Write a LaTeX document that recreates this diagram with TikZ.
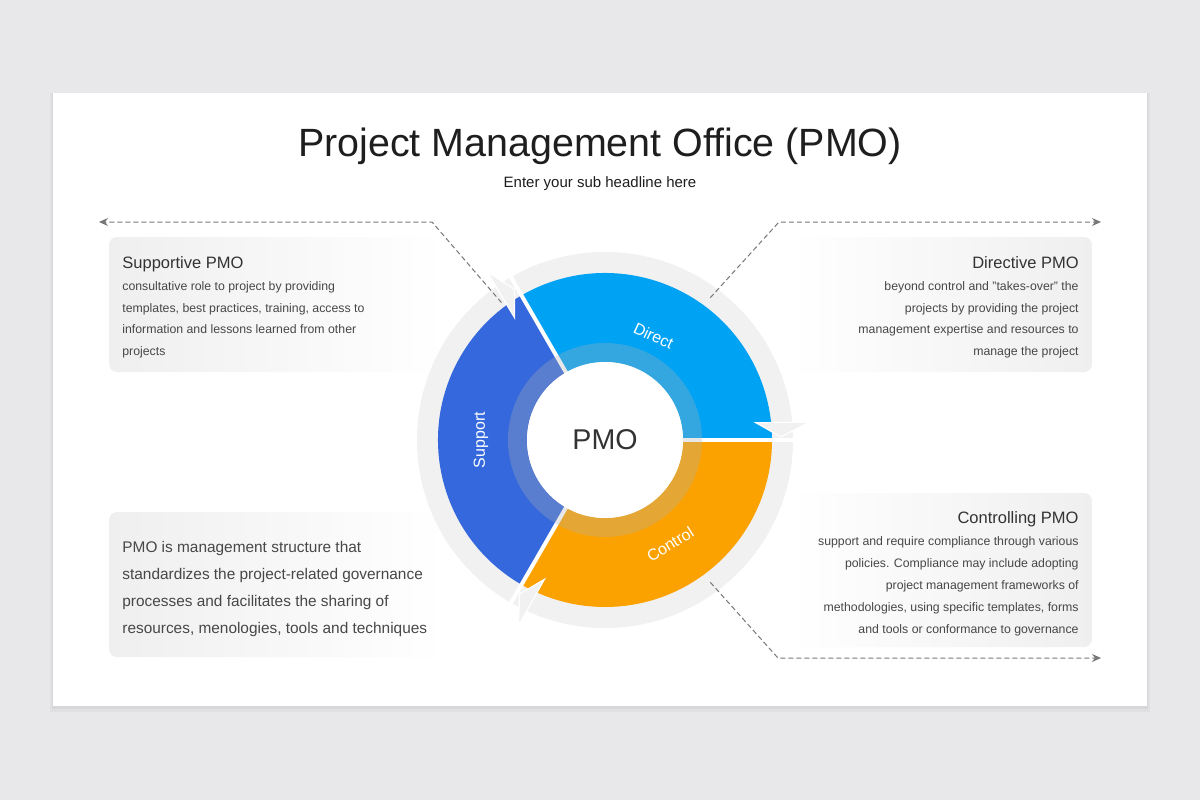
\documentclass[tikz,border=0pt]{standalone}
\usepackage{fontspec}
\setmainfont{Liberation Sans}
\usetikzlibrary{positioning, arrows.meta}

\definecolor{pagegray}{HTML}{E8E7E9}
\definecolor{ringgray}{HTML}{F1F1F1}
\definecolor{boxgray}{HTML}{EFEFEF}
\definecolor{directblue}{HTML}{00A3F4}
\definecolor{supportblue}{HTML}{3468DC}
\definecolor{controlorange}{HTML}{FBA200}
\definecolor{dashgray}{HTML}{777777}
\definecolor{titletext}{HTML}{1E1E1E}
\definecolor{headtext}{HTML}{333333}
\definecolor{bodytext}{HTML}{474747}

\begin{document}
\begin{tikzpicture}
            [x=0.5pt, y=0.5pt, >={Stealth[length=4.5pt, width=4pt]},
             infobox/.style={rounded corners=4pt, draw=none, inner sep=0pt},
             heading/.style={inner sep=0pt, text=headtext, font=\fontsize{8.25}{10}\selectfont},
             infotext/.style={inner sep=0pt, text=bodytext, font=\fontsize{6.15}{10.85}\selectfont},
             seglabel/.style={inner sep=0pt, text=white, font=\fontsize{8}{10}\selectfont},
             arrowhead/.style={fill=ringgray, draw=white, line width=0.6pt},
             link/.style={->, dashgray, dash pattern=on 2.5pt off 1.5pt, line width=0.5pt}]
            \useasboundingbox (0, 0) rectangle (1200, 800);
            \fill[pagegray] (0, 0) rectangle (1200, 800);
            \fill[black, opacity=0.03] (50, 88) rectangle (1150, 707);
            \fill[black, opacity=0.04] (52, 91) rectangle (1148, 707);
            \fill[white] (53, 94) rectangle (1147, 707);

            \node[inner sep=0pt, text=titletext, font=\fontsize{19.7}{22}\selectfont, anchor=base] (title) at (600, 644) {Project Management Office (PMO)};
            \node[inner sep=0pt, text=titletext, font=\fontsize{7.5}{9}\selectfont, anchor=base] (subtitle) at (600, 612.5) {Enter your sub headline here};

            \node[infobox, left color=boxgray, right color=white, minimum width=168pt, minimum height=67.5pt] (supbox) at (277, 495.5) {};
            \node[infobox, left color=white, right color=boxgray, minimum width=151pt, minimum height=67.5pt] (dirbox) at (941, 495.5) {};
            \node[infobox, left color=white, right color=boxgray, minimum width=151pt, minimum height=77pt] (ctlbox) at (941, 230) {};
            \node[infobox, left color=boxgray, right color=white, minimum width=168pt, minimum height=72.5pt] (defbox) at (277, 215.5) {};

            \node[heading, anchor=base west] (suphead) at (122, 532) {Supportive PMO};
            \node[infotext, anchor=north west, align=left] (suptext) at (122, 519)
                {consultative role to project by providing\\templates, best practices, training, access to\\information and lessons learned from other\\projects};
            \node[heading, anchor=base east] (dirhead) at (1079, 532) {Directive PMO};
            \node[infotext, anchor=north east, align=right] (dirtext) at (1079, 519)
                {beyond control and "takes-over" the\\projects by providing the project\\management expertise and resources to\\manage the project};
            \node[heading, anchor=base east] (ctlhead) at (1079, 277) {Controlling PMO};
            \node[infotext, anchor=north east, align=right, font=\fontsize{6.15}{11}\selectfont] (ctltext) at (1079, 264)
                {support and require compliance through various\\policies. Compliance may include adopting\\project management frameworks of\\methodologies, using specific templates, forms\\and tools or conformance to governance};
            \node[infotext, anchor=north west, align=left, font=\fontsize{7.7}{13.5}\selectfont] (deftext) at (122, 259.5)
                {PMO is management structure that\\standardizes the project-related governance\\processes and facilitates the sharing of\\resources, menologies, tools and techniques};

            \begin{scope}[shift={(605, 360)}]
                \fill[ringgray] (0, 0) circle (188);
                \fill[directblue] (0:78) arc[start angle=0, end angle=120, radius=78] -- (120:167) arc[start angle=120, end angle=0, radius=167] -- cycle;
                \fill[supportblue] (120:78) arc[start angle=120, end angle=240, radius=78] -- (240:167) arc[start angle=240, end angle=120, radius=167] -- cycle;
                \fill[controlorange] (240:78) arc[start angle=240, end angle=360, radius=78] -- (360:167) arc[start angle=360, end angle=240, radius=167] -- cycle;
                \filldraw[arrowhead] (6.5:152) -- (1:176) -- (5:205) -- cycle;
                \filldraw[arrowhead] (126.5:152) -- (121:176) -- (125:205) -- cycle;
                \filldraw[arrowhead] (246.5:152) -- (241:176) -- (245:205) -- cycle;
                \draw[white, line width=2pt] (0:70) -- (0:210);
                \draw[white, line width=2pt] (120:70) -- (120:210);
                \draw[white, line width=2pt] (240:70) -- (240:210);
                \fill[gray!60, opacity=0.3, even odd rule] (0, 0) circle (97) circle (78);
                \node[circle, fill=white, inner sep=0pt, minimum size=78pt, text=headtext, font=\fontsize{14.3}{16}\selectfont] (pmo) at (0, 0) {PMO};

                \node[seglabel, rotate=-25] (direct) at (65:115) {Direct};
                \node[seglabel, rotate=90] (support) at (180:124) {Support};
                \node[seglabel, rotate=32] (control) at (-58:123) {Control};

                \coordinate (supring) at (127:172);
                \coordinate (dirring) at (53.5:177);
                \coordinate (ctlring) at (-53.5:177);
            \end{scope}

            \coordinate (supbend) at (432, 578);
            \coordinate (supend) at (99, 578);
            \coordinate (dirbend) at (779, 578);
            \coordinate (dirend) at (1101, 578);
            \coordinate (ctlbend) at (778, 142);
            \coordinate (ctlend) at (1101, 142);

            \draw[link] (supring) -- (supbend) -- (supend);
            \draw[link] (dirring) -- (dirbend) -- (dirend);
            \draw[link] (ctlring) -- (ctlbend) -- (ctlend);
\end{tikzpicture}
\end{document}
